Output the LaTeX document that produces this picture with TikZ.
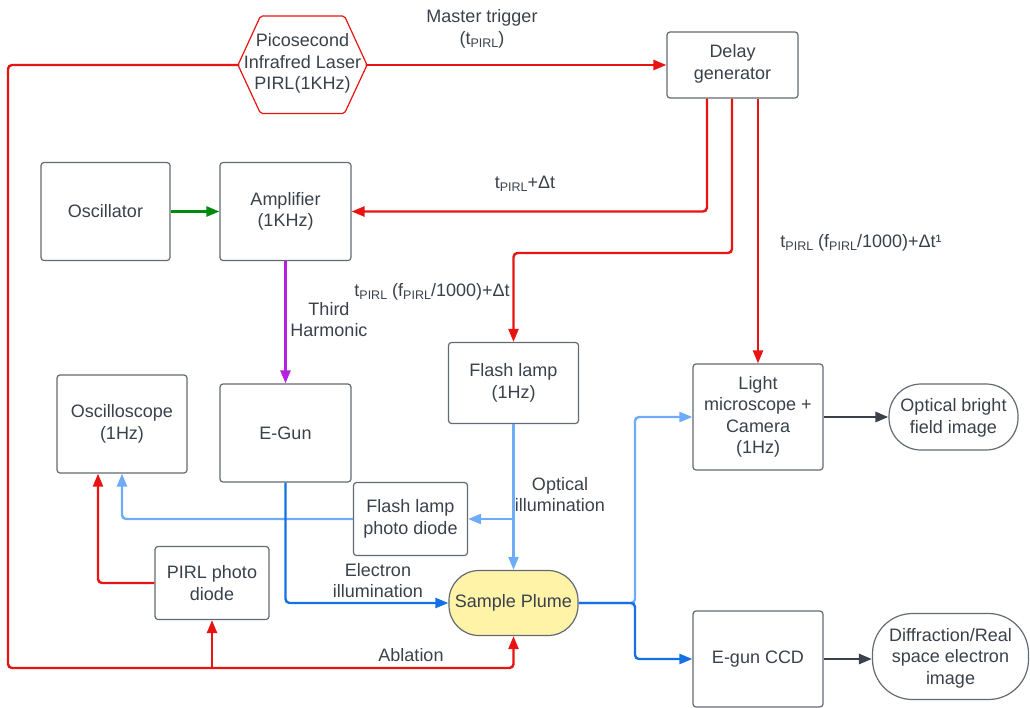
\documentclass[tikz,border=0pt]{standalone}
\usepackage{fontspec}
\setmainfont{Liberation Sans}
\usetikzlibrary{arrows.meta}
\definecolor{cred}{RGB}{232,19,19}
\definecolor{clblue}{RGB}{110,172,250}
\definecolor{cblue}{RGB}{20,113,229}
\definecolor{cgreen}{RGB}{0,138,14}
\definecolor{cpurple}{RGB}{182,32,224}
\definecolor{cdark}{RGB}{58,65,74}
\definecolor{cgray}{RGB}{100,106,115}
\definecolor{cyellow}{RGB}{255,243,168}
\newcommand\lowsub[1]{\raisebox{-0.35ex}{\fontsize{12.5}{12}\selectfont #1}}
\begin{document}
\begin{tikzpicture}[x=1pt,y=-1pt,
  font=\fontsize{18}{21.5}\selectfont, text=cdark,
  box/.style={draw=cgray, line width=1.2pt, rounded corners=3pt, fill=white, align=center, inner sep=0pt},
  pill/.style={box, rounded corners=#1},
  lbl/.style={align=center, inner sep=0pt},
  conn/.style={line width=2.4pt, rounded corners=4pt},
  arr/.style={-{Triangle[length=13pt,width=10pt]}},
  redl/.style={conn, draw=cred},
  lbluel/.style={conn, draw=clblue},
  bluel/.style={conn, draw=cblue},
  greenl/.style={conn, draw=cgreen},
  purplel/.style={conn, draw=cpurple},
  darkl/.style={conn, draw=cdark, line width=2.8pt}
]
\useasboundingbox (0,0) rectangle (1030,707);

% nodes
\draw[draw=cred, line width=1.2pt, fill=white, rounded corners=2pt]
  (238,65) -- (260.5,16) -- (344.5,16) -- (367,65) -- (344.5,113.5) -- (260.5,113.5) -- cycle;
\coordinate (laserW) at (238,65);
\coordinate (laserE) at (367,65);
\node[lbl] (laser) at (302.5,63.5) {Picosecond\\Infrafred Laser\\PIRL(1KHz)};

\node[box, minimum width=131pt, minimum height=66pt] (delay) at (732.5,65) {};
\node[lbl] (delaytext) at (732.5,64) {Delay\\generator};
\node[box, minimum width=129pt, minimum height=98pt] (osc) at (105.5,211.5) {Oscillator};
\node[box, minimum width=131pt, minimum height=98pt] (amp) at (285.5,211.5) {Amplifier\\(1KHz)};
\node[box, minimum width=130pt, minimum height=98pt] (scope) at (122,424) {Oscilloscope\\(1Hz)};
\node[box, minimum width=131pt, minimum height=98pt] (egun) at (285.5,433) {E-Gun};
\node[box, minimum width=130pt, minimum height=81pt] (flash) at (513.5,383) {Flash lamp\\(1Hz)};
\node[box, minimum width=114pt, minimum height=73pt] (fpd) at (410.5,519) {Flash lamp\\photo diode};
\node[box, minimum width=114pt, minimum height=73pt] (pirlpd) at (212,583) {PIRL photo\\diode};
\node[pill=30pt, fill=cyellow, minimum width=129pt, minimum height=65pt] (sample) at (513.5,603) {Sample Plume};
\node[box, minimum width=130pt, minimum height=106pt] (lm) at (758,417) {Light\\microscope +\\Camera\\(1Hz)};
\node[pill=32pt, minimum width=129pt, minimum height=66pt] (obf) at (953.5,417) {};
\node[lbl] (obftext) at (953.5,418) {Optical bright\\field image};
\node[box, minimum width=130pt, minimum height=96pt] (ccd) at (758,659) {E-gun CCD};
\node[pill=40pt, minimum width=156pt, minimum height=86pt] (diff) at (950.5,656.5) {};
\node[lbl] (difftext) at (950.5,658) {Diffraction/Real\\space electron\\image};

% labels
\node[lbl] (lmaster) at (482,29) {Master trigger\\(t\lowsub{PIRL})};
\node[lbl] (ldt) at (525,184) {t\lowsub{PIRL}+Δt};
\node[lbl] (lf1) at (432,292) {t\lowsub{PIRL} (f\lowsub{PIRL}/1000)+Δt};
\node[lbl] (lf2) at (861,243) {t\lowsub{PIRL} (f\lowsub{PIRL}/1000)+Δt¹};
\node[lbl] (lth) at (329,319.5) {Third\\Harmonic};
\node[lbl] (lel) at (378,580.5) {Electron\\illumination};
\node[lbl] (lop) at (560,494.5) {Optical\\illumination};
\node[lbl] (labl) at (411,655) {Ablation};

% connectors
\draw[redl, arr] (laserE) -- (delay.west);
\draw[redl, arr] (laserW) -- ++(-230,0) |- (sample.south |- 0,668) -- (sample.south);
\draw[redl, arr] (pirlpd.south |- 0,668) -- (pirlpd.south);
\draw[redl, arr] (delay.south -| 707,0) |- (amp.east);
\draw[redl, arr] (delay.south -| 732,0) |- (flash.north |- 0,253) -- (flash.north);
\draw[redl, arr] (delay.south -| lm.north) -- (lm.north);
\draw[redl, arr] (pirlpd.west) -| ([xshift=-24pt]scope.south);
\draw[greenl, arr] (osc.east) -- (amp.west);
\draw[purplel, arr] (amp.south) -- (egun.north);
\draw[lbluel, arr] (flash.south) -- (sample.north);
\draw[lbluel, arr] (flash.south |- fpd.east) -- (fpd.east);
\draw[lbluel, arr] (fpd.west) -| (scope.south);
\draw[bluel, arr] (egun.south) |- (sample.west);
\draw[lbluel, arr] (sample.east) -- (635,603) |- (lm.west);
\draw[bluel, arr] (sample.east) -- (635,603) |- (ccd.west);
\draw[darkl, arr] (lm.east) -- (obf.west);
\draw[darkl, arr] (ccd.east) -- (ccd.east -| diff.west);
\end{tikzpicture}
\end{document}
